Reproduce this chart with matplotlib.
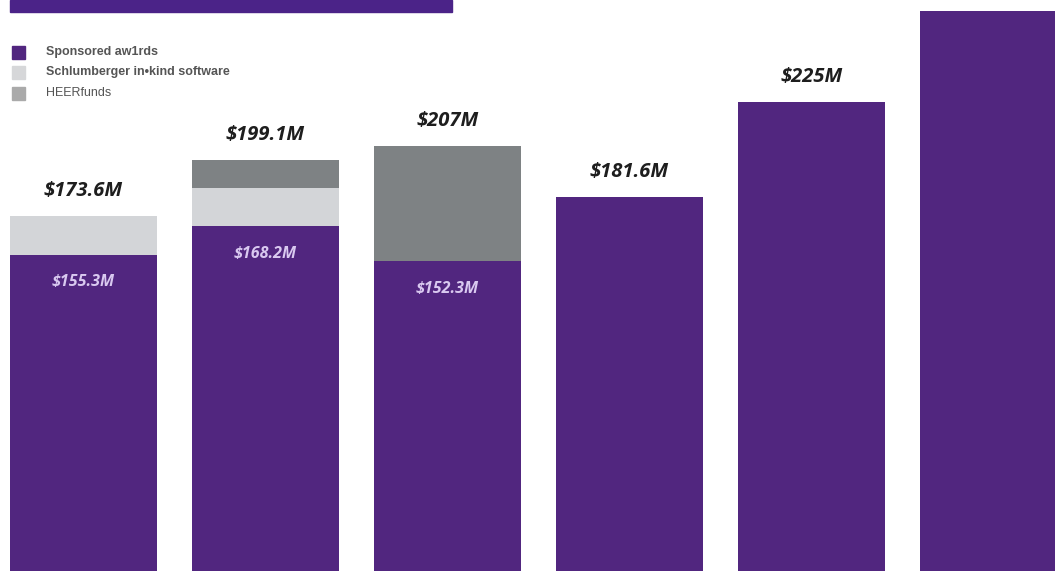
import matplotlib
matplotlib.use("Agg")
import matplotlib.pyplot as plt
from matplotlib.patches import Rectangle
import numpy as np

# values in $M
sponsored = [155.3, 168.2, 152.3, 181.6, 225.0, 266.5]
software = [17.4, 17.5, 0, 0, 0, 0]
heer = [0, 12.6, 52.6, 0, 0, 0]
top_labels = ["$173.6M", "$199.1M", "$207M", "$181.6M", "$225M", ""]
inner_labels = ["$155.3M", "$168.2M", "$152.3M", "", "", ""]
legend_labels = ["Sponsored aw1rds", "Schlumberger in\u2022kind software", "HEERfunds"]

purple = "#51267f"
light = "#d3d5d8"
dark = "#7e8284"

W, H = 1055, 571
fig = plt.figure(figsize=(W / 100, H / 100), dpi=100)
ax = fig.add_axes([0, 0, 1, 1])

x = np.arange(len(sponsored))
w = 0.808
sp = np.array(sponsored)
sw = np.array(software)
he = np.array(heer)

ax.bar(x, sp, w, color=purple, zorder=2)
ax.bar(x, sw, w, bottom=sp, color=light, zorder=2)
ax.bar(x, he, w, bottom=sp + sw, color=dark, zorder=2)

totals = sp + sw + he
for i in range(len(x)):
    if top_labels[i]:
        ax.annotate(top_labels[i], (x[i], totals[i]), xytext=(0, 18),
                    textcoords="offset points", ha="center", va="center",
                    fontsize=14.5, fontweight="bold", fontstyle="italic",
                    family="Open Sans", color="#1e1e1e")
    if inner_labels[i]:
        ax.annotate(inner_labels[i], (x[i], sp[i]), xytext=(0, -20),
                    textcoords="offset points", ha="center", va="center",
                    fontsize=11.5, fontweight="bold", fontstyle="italic",
                    family="Open Sans", color="#d9c9f0")

ax.set_xlim(-0.459, -0.459 + W / 182)
ax.set_ylim(10.7, 271.6)
ax.axis("off")

# title box, cut off at the top
fig.patches.append(Rectangle((10 / W, 1 - 12 / H), 442 / W, 12 / H,
                             transform=fig.transFigure, color="#4b2388",
                             zorder=5))

# legend drawn by hand
sq_cols = [purple, "#d6d7d9", "#aaaaaa"]
rows = [52, 72, 93]
weights = ["bold", "bold", "normal"]
for lab, c, r, wt in zip(legend_labels, sq_cols, rows, weights):
    fig.patches.append(Rectangle((12 / W, 1 - (r + 6.5) / H), 13 / W, 13 / H,
                                 transform=fig.transFigure, color=c))
    fig.text(46 / W, 1 - r / H, lab, fontsize=9, fontweight=wt,
             family="Liberation Sans", color="#555555", va="center")

fig.savefig("out.png", dpi=100)
